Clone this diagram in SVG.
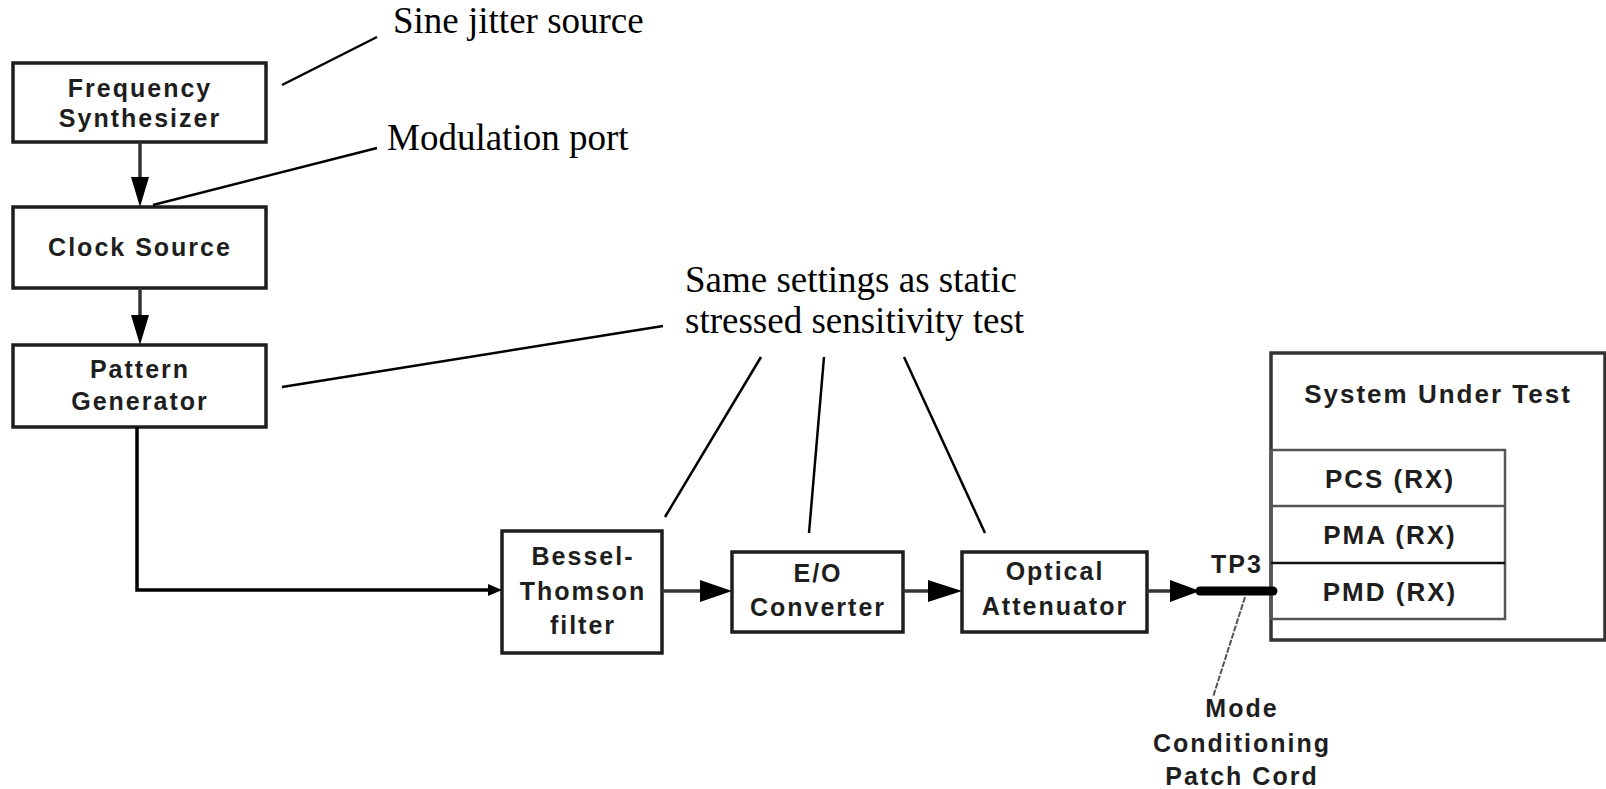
<svg xmlns="http://www.w3.org/2000/svg" width="1606" height="789" viewBox="0 0 1606 789">
<style>
.box{fill:#fff;stroke:#1e1e1e;stroke-width:3.5}
.bt{font-family:"Liberation Sans",Arial,sans-serif;font-weight:bold;font-size:25px;letter-spacing:2px;fill:#1e1e1e;text-anchor:middle}
.sut{font-family:"Liberation Sans",Arial,sans-serif;font-weight:bold;font-size:26px;letter-spacing:2px;fill:#1e1e1e;text-anchor:middle}
.note{font-family:"Liberation Serif","Times New Roman",serif;font-size:37px;fill:#000}
.lead{stroke:#000;stroke-width:2.5;fill:none}
.wire{stroke:#333;stroke-width:3.5;fill:none}
.head{fill:#000}
</style>
<rect width="1606" height="789" fill="#fff"/>

<g id="freq-synth">
<rect class="box" x="13" y="63" width="253" height="79"/>
<text class="bt" x="140" y="97">Frequency</text>
<text class="bt" x="140" y="127">Synthesizer</text>
</g>
<g id="clock-source">
<rect class="box" x="13" y="207" width="253" height="81"/>
<text class="bt" x="140" y="256">Clock Source</text>
</g>
<g id="pattern-gen">
<rect class="box" x="13" y="345" width="253" height="82"/>
<text class="bt" x="140" y="378">Pattern</text>
<text class="bt" x="140" y="410">Generator</text>
</g>
<g id="bessel">
<rect class="box" x="502" y="531" width="160" height="122"/>
<text class="bt" x="583" y="565">Bessel-</text>
<text class="bt" x="583" y="600">Thomson</text>
<text class="bt" x="583" y="634">filter</text>
</g>
<g id="eo-converter">
<rect class="box" x="732" y="552" width="171" height="80"/>
<text class="bt" x="818" y="582">E/O</text>
<text class="bt" x="818" y="616">Converter</text>
</g>
<g id="optical-att">
<rect class="box" x="962" y="552" width="185" height="80"/>
<text class="bt" x="1055" y="580">Optical</text>
<text class="bt" x="1055" y="615">Attenuator</text>
</g>
<g id="system-under-test">
<rect x="1271" y="353" width="334" height="287" fill="#fff" stroke="#333" stroke-width="3.5"/>
<text class="sut" x="1438" y="403">System Under Test</text>
<rect x="1271" y="450" width="234" height="169" fill="none" stroke="#555" stroke-width="2.5"/>
<line x1="1271" y1="506" x2="1505" y2="506" stroke="#555" stroke-width="2.5"/>
<line x1="1271" y1="563" x2="1505" y2="563" stroke="#111" stroke-width="2.5"/>
<text class="sut" x="1390" y="488">PCS (RX)</text>
<text class="sut" x="1390" y="544">PMA (RX)</text>
<text class="sut" x="1390" y="601">PMD (RX)</text>
</g>

<g id="connectors">
<line class="wire" x1="140" y1="142" x2="140" y2="180"/>
<polygon class="head" points="131,177 149,177 140,207"/>
<line class="wire" x1="140" y1="288" x2="140" y2="318"/>
<polygon class="head" points="131,315 149,315 140,345"/>
<polyline points="137,427 137,590 492,590" fill="none" stroke="#000" stroke-width="3.5"/>
<polygon class="head" points="488,584 488,596 502,590"/>
<line class="wire" x1="662" y1="591" x2="702" y2="591"/>
<polygon class="head" points="700,580 700,602 732,591"/>
<line class="wire" x1="903" y1="591" x2="930" y2="591"/>
<polygon class="head" points="928,580 928,602 962,591"/>
<line class="wire" x1="1147" y1="591" x2="1172" y2="591"/>
<polygon class="head" points="1170,580 1170,602 1200,591"/>
<line x1="1200" y1="591" x2="1273" y2="591" stroke="#000" stroke-width="9" stroke-linecap="round"/>
</g>

<g id="annotations">
<text class="note" x="393" y="33">Sine jitter source</text>
<line class="lead" x1="282" y1="85" x2="377" y2="37"/>
<text class="note" x="387" y="150">Modulation port</text>
<line class="lead" x1="153" y1="205" x2="377" y2="148"/>
<text class="note" x="685" y="292">Same settings as static</text>
<text class="note" x="685" y="333">stressed sensitivity test</text>
<line class="lead" x1="282" y1="387" x2="663" y2="326"/>
<line class="lead" x1="761" y1="357" x2="665" y2="517"/>
<line class="lead" x1="824" y1="357" x2="809" y2="533"/>
<line class="lead" x1="904" y1="357" x2="985" y2="533"/>
<text class="bt" x="1237" y="573">TP3</text>
<line x1="1245" y1="597" x2="1213" y2="697" stroke="#555" stroke-width="2" stroke-dasharray="6 1.5"/>
<text class="bt" x="1242" y="717">Mode</text>
<text class="bt" x="1242" y="752">Conditioning</text>
<text class="bt" x="1242" y="785">Patch Cord</text>
</g>
</svg>
